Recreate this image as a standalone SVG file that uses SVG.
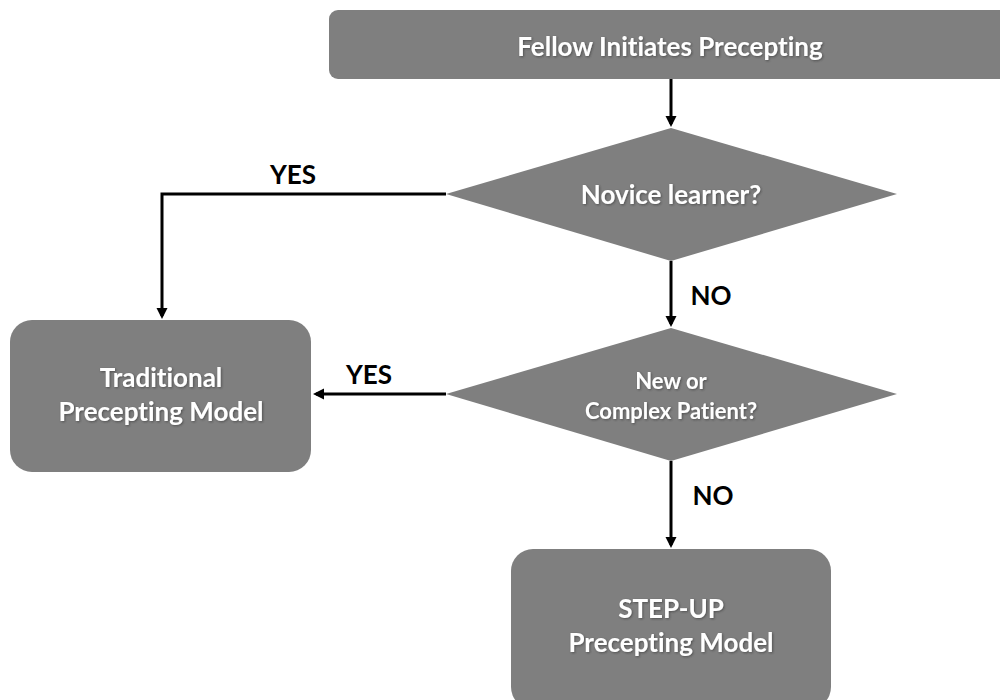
<svg xmlns="http://www.w3.org/2000/svg" width="1000" height="700" viewBox="0 0 1000 700">
<style>
text{font-variant-ligatures:none;}
.node{fill:#7f7f7f;}
.nt{fill:#ffffff;font-family:Lato,"Open Sans","Liberation Sans",sans-serif;font-weight:bold;text-anchor:middle;filter:url(#sh);}
.lbl{fill:#000000;font-family:Lato,"Open Sans","Liberation Sans",sans-serif;font-weight:bold;font-size:26px;text-anchor:middle;}
.conn{fill:none;stroke:#000;stroke-width:3;}
</style>
<defs>
<marker id="ah" markerWidth="12" markerHeight="12" refX="8" refY="6" orient="auto" markerUnits="userSpaceOnUse">
<path d="M0,0.5 L11,6 L0,11.5 z" fill="#000"/>
</marker>
<filter id="sh" x="-10%" y="-30%" width="120%" height="160%">
<feDropShadow dx="1" dy="1" stdDeviation="0.8" flood-color="#333" flood-opacity="0.6"/>
</filter>
</defs>
<rect width="1000" height="700" fill="#ffffff"/>
<g id="connectors">
<line class="conn" x1="671" y1="79" x2="671" y2="124" marker-end="url(#ah)"/>
<polyline class="conn" points="446,194 162,194 162,316" marker-end="url(#ah)"/>
<line class="conn" x1="671" y1="261" x2="671" y2="324" marker-end="url(#ah)"/>
<line class="conn" x1="446" y1="394" x2="316" y2="394" marker-end="url(#ah)"/>
<line class="conn" x1="671" y1="461" x2="671" y2="545" marker-end="url(#ah)"/>
<text class="lbl" x="293" y="184">YES</text>
<text class="lbl" x="711" y="305">NO</text>
<text class="lbl" x="369" y="384">YES</text>
<text class="lbl" x="713" y="505">NO</text>
</g>
<g id="start">
<rect class="node" x="329" y="10" width="690" height="69" rx="9"/>
<text class="nt" x="670" y="56" font-size="26">Fellow Initiates Precepting</text>
</g>
<g id="novice">
<polygon class="node" points="671,128 897,194 671,261 446,194"/>
<text class="nt" x="671" y="204" font-size="26">Novice learner?</text>
</g>
<g id="complex">
<polygon class="node" points="671,328 897,394 671,461 446,394"/>
<text class="nt" x="671" y="389" font-size="22">New or</text>
<text class="nt" x="671" y="419" font-size="22">Complex Patient?</text>
</g>
<g id="traditional">
<rect class="node" x="10" y="320" width="301" height="152" rx="22"/>
<text class="nt" x="161" y="387" font-size="26">Traditional</text>
<text class="nt" x="161" y="421" font-size="26">Precepting Model</text>
</g>
<g id="stepup">
<rect class="node" x="511" y="549" width="320" height="160" rx="22"/>
<text class="nt" x="671" y="618" font-size="26">STEP-UP</text>
<text class="nt" x="671" y="652" font-size="26">Precepting Model</text>
</g>
</svg>
